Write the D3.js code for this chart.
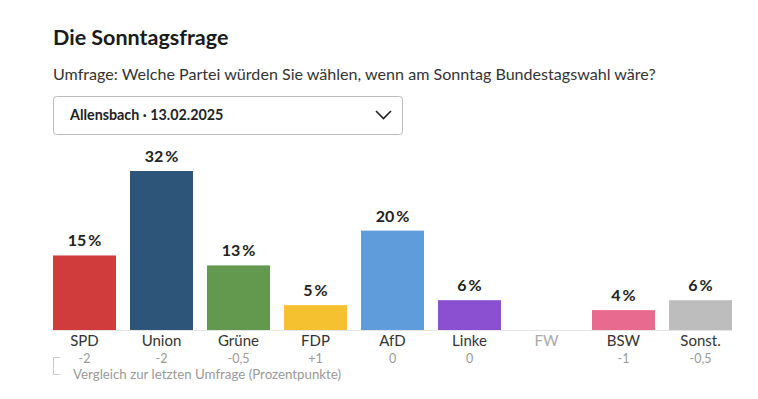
<!DOCTYPE html>
<html>
<head>
<meta charset="utf-8">
<script src="https://cdn.jsdelivr.net/npm/d3@7"></script>
<style>
  body { margin: 0; background: #fff; }
  svg { display: block; font-family: Lato, "Noto Sans", sans-serif; }
</style>
</head>
<body>
<div id="canvas"></div>
<script>
"use strict"

// poll data (Allensbach, 13.02.2025)
let parties = ["SPD", "Union", "Grüne", "FDP", "AfD", "Linke", "FW", "BSW", "Sonst."];
let shares = [15, 32, 13, 5, 20, 6, null, 4, 6];
let changes = [-2, -2, -0.5, 1, 0, 0, null, -1, -0.5];
let colors = ["#d03b3b", "#2d5479", "#63994f", "#f6c130", "#5f9cdc", "#8b4fd1", "#cccccc", "#e96a8f", "#bdbdbd"];

let drawing = d3.select("#canvas")
    .append("svg")
    .attr("width", 758)
    .attr("height", 399);

/* header */
drawing.append("text")
    .attr("x", 53).attr("y", 45)
    .attr("font-size", 21.5).attr("font-weight", "bold")
    .attr("fill", "#1a1a1a")
    .text("Die Sonntagsfrage");

drawing.append("text")
    .attr("x", 53).attr("y", 80)
    .attr("font-size", 16.1)
    .attr("fill", "#333")
    .text("Umfrage: Welche Partei würden Sie wählen, wenn am Sonntag Bundestagswahl wäre?");

/* dropdown */
drawing.append("rect")
    .attr("x", 53.5).attr("y", 96.5)
    .attr("width", 349).attr("height", 38)
    .attr("rx", 3)
    .attr("fill", "#fff")
    .attr("stroke", "#bbb");

drawing.append("text")
    .attr("x", 70).attr("y", 120)
    .attr("font-size", 14.3).attr("font-weight", "bold")
    .attr("fill", "#222")
    .text("Allensbach · 13.02.2025");

drawing.append("polyline")
    .attr("points", "376,111 383.5,118.5 391,111")
    .attr("fill", "none")
    .attr("stroke", "#222")
    .attr("stroke-width", 1.6);

/* chart */
let x = d3.scaleBand()
    .domain(parties)
    .range([53, 732])
    .paddingInner(0.182);

let y = d3.scaleLinear()
    .domain([0, 32])
    .range([330, 171]);

let fmtChange = function (v) {
    if (v === null) return "";
    let s = d3.format(".1~f")(Math.abs(v)).replace(".", ",");
    if (v > 0) return "+" + s;
    if (v < 0) return "-" + s;
    return s;
};

let rows = parties.map((p, i) => ({ party: p, share: shares[i], change: changes[i], color: colors[i] }));

drawing.append("line")
    .attr("x1", 53).attr("x2", 732)
    .attr("y1", 330.5).attr("y2", 330.5)
    .attr("stroke", "#e6e6e6")
    .attr("stroke-width", 1);

drawing.selectAll(".bar")
    .data(rows.filter(d => d.share !== null))
    .enter().append("rect")
    .attr("class", "bar")
    .attr("x", d => x(d.party))
    .attr("y", d => y(d.share))
    .attr("width", x.bandwidth())
    .attr("height", d => y(0) - y(d.share))
    .attr("fill", d => d.color);

drawing.selectAll(".val")
    .data(rows.filter(d => d.share !== null))
    .enter().append("text")
    .attr("class", "val")
    .attr("x", d => x(d.party) + x.bandwidth() / 2)
    .attr("y", d => y(d.share) - 9)
    .attr("text-anchor", "middle")
    .attr("font-size", 16).attr("font-weight", "bold")
    .attr("fill", "#222")
    .text(d => d.share + "\u2009%");

drawing.selectAll(".cat")
    .data(rows)
    .enter().append("text")
    .attr("class", "cat")
    .attr("x", d => x(d.party) + x.bandwidth() / 2)
    .attr("y", 346)
    .attr("text-anchor", "middle")
    .attr("font-size", 15)
    .attr("fill", d => d.share === null ? "#aaa" : "#333")
    .text(d => d.party);

drawing.selectAll(".chg")
    .data(rows)
    .enter().append("text")
    .attr("class", "chg")
    .attr("x", d => x(d.party) + x.bandwidth() / 2)
    .attr("y", 363)
    .attr("text-anchor", "middle")
    .attr("font-size", 12.5)
    .attr("fill", "#999")
    .text(d => fmtChange(d.change));

/* comparison note with bracket */
drawing.append("polyline")
    .attr("points", "60,357.5 53.5,357.5 53.5,374.5 60,374.5")
    .attr("fill", "none")
    .attr("stroke", "#ccc")
    .attr("stroke-width", 1);

drawing.append("text")
    .attr("x", 73).attr("y", 379)
    .attr("font-size", 13.3)
    .attr("fill", "#999")
    .text("Vergleich zur letzten Umfrage (Prozentpunkte)");
</script>
</body>
</html>
